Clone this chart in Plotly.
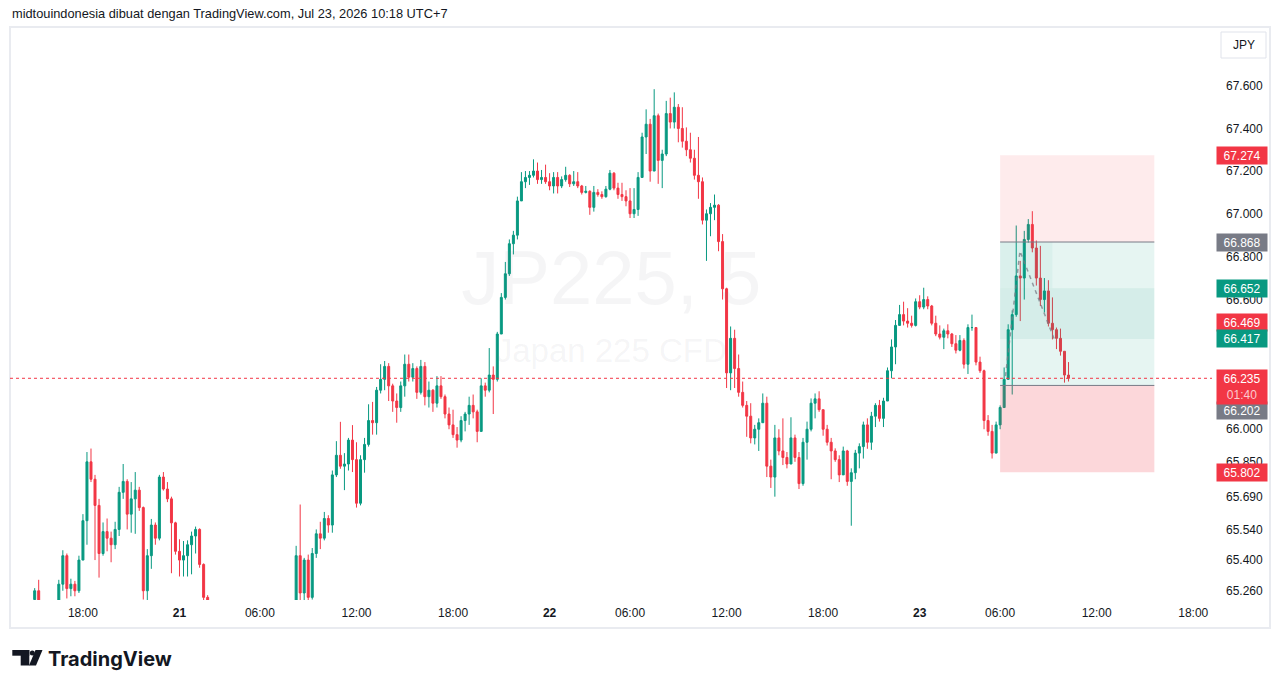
import numpy as np
import pandas as pd
import plotly.graph_objects as go

# ---------------- data (JP225 CFD, 15-minute candles) ----------------
session_segments = [
    ("2026-07-20 15:00", "2026-07-20 15:15"),
    ("2026-07-20 16:30", "2026-07-21 01:45"),
    ("2026-07-21 08:15", "2026-07-23 10:15"),
]
closed_hour = 5  # market break 05:00-06:00 (UTC+7)

opens = [
    65220, 65260,
    65180, 65290,
    65420, 65270, 65290, 65260,
    65400, 65580, 65850, 65770,
    65650, 65430, 65530, 65500,
    65470, 65540, 65710, 65760,
    65610, 65680, 65720, 65640,
    65260, 65420, 65560, 65500,
    65780, 65725, 65680, 65570,
    65440, 65400, 65420, 65470,
    65510, 65540, 65380, 65230,
    # Jul 21
    65200, 65420, 65250,
    65400, 65230, 65430, 65520,
    65500, 65590, 65560, 65790,
    65880, 65830, 65840, 65950,
    65860, 65660, 65860, 65930,
    66040, 66030, 66180, 66230,
    66290, 66200, 66130, 66100,
    66200, 66300, 66240, 66280,
    66170, 66290, 66150, 66180,
    66120, 66200, 66150, 66070,
    66020, 65975, 65950, 66040,
    66070, 66110, 66080, 65990,
    66200, 66180, 66250, 66230,
    66440, 66610, 66720, 66860,
    66900, 67060, 67150, 67170,
    67180, 67200, 67160, 67170,
    # Jul 22
    67150, 67130, 67170, 67130,
    67160, 67180, 67140, 67150,
    67130, 67100, 67105, 67030,
    67100, 67090, 67080, 67115,
    67190, 67120, 67090, 67080,
    67060, 67000, 67020, 67170,
    67360, 67420, 67200, 67460,
    67250, 67280, 67470, 67430,
    67500, 67400, 67340, 67300,
    67260, 67180, 67150, 66970,
    67000, 67030, 67040, 66870,
    66650, 66260, 66420, 66280,
    66170, 66110, 66060, 65960,
    66000, 66030, 66120, 65830,
    65780, 65960, 65900, 65870,
    65840, 65960, 65870, 65750,
    65940, 66000, 66120, 66140,
    66090, 66000, 65940, 65900,
    65860, 65790, 65900, 65760,
    65800, 65890, 65920, 66020,
    65940, 66060, 66110, 66050,
    66130, 66270, 66380, 66480,
    66530, 66500, 66490, 66480,
    # Jul 23
    66590, 66565, 66600, 66570,
    66490, 66440, 66425, 66455,
    66440, 66395, 66365, 66410,
    66300, 66470, 66470, 66310,
    66270, 66040, 65990, 65890,
    66020, 66100, 66230, 66460,
    66530, 66710, 66700, 66880,
    66950, 66840, 66700, 66600,
    66640, 66490, 66460, 66420,
    66360, 66250,
]

highs = [
    65272, 65310,
    65310, 65445,
    65430, 65315, 65305, 65420,
    65610, 65895, 65911, 65790,
    65680, 65572, 65590, 65530,
    65575, 65735, 65840, 65770,
    65757, 65803, 65735, 65645,
    65450, 65588, 65572, 65790,
    65803, 65757, 65690, 65575,
    65495, 65487, 65490, 65530,
    65553, 65545, 65385, 65240,
    # Jul 21
    65465, 65654, 65410,
    65425, 65455, 65540, 65575,
    65620, 65605, 65810, 65945,
    66034, 65890, 65960, 66019,
    65940, 65880, 65960, 66115,
    66126, 66195, 66300, 66315,
    66305, 66210, 66165, 66220,
    66345, 66345, 66305, 66290,
    66320, 66310, 66220, 66185,
    66245, 66245, 66160, 66100,
    66090, 66010, 66060, 66080,
    66150, 66160, 66090, 66235,
    66215, 66375, 66290, 66450,
    66630, 66775, 66880, 66920,
    67080, 67195, 67200, 67200,
    67255, 67240, 67205, 67230,
    # Jul 22
    67190, 67195, 67195, 67175,
    67220, 67185, 67200, 67195,
    67135, 67130, 67110, 67130,
    67115, 67105, 67130, 67205,
    67195, 67145, 67145, 67110,
    67120, 67120, 67195, 67380,
    67490, 67445, 67585, 67470,
    67300, 67530, 67545, 67570,
    67515, 67500, 67405, 67380,
    67300, 67360, 67170, 67020,
    67050, 67090, 67045, 66905,
    66655, 66475, 66460, 66345,
    66220, 66130, 66120, 66020,
    66050, 66165, 66150, 65860,
    66020, 66000, 66050, 65895,
    66055, 65975, 65895, 65960,
    66035, 66142, 66165, 66175,
    66090, 66020, 65960, 65912,
    65880, 65920, 65905, 65820,
    65905, 65935, 66035, 66050,
    66080, 66120, 66135, 66145,
    66285, 66415, 66505, 66575,
    66590, 66560, 66525, 66605,
    # Jul 23
    66620, 66655, 66615, 66575,
    66525, 66480, 66465, 66485,
    66445, 66435, 66435, 66420,
    66485, 66530, 66470, 66335,
    66275, 66065, 66020, 66035,
    66110, 66285, 66485, 66550,
    66945, 66780, 66920, 66975,
    67012, 66875, 66850, 66700,
    66690, 66610, 66470, 66465,
    66360, 66310,
]

lows = [
    65180, 65150,
    65150, 65260,
    65225, 65235, 65235, 65250,
    65400, 65470, 65757, 65400,
    65320, 65420, 65440, 65390,
    65450, 65510, 65680, 65540,
    65525, 65520, 65625, 65220,
    65210, 65360, 65470, 65490,
    65718, 65665, 65340, 65425,
    65325, 65325, 65325, 65335,
    65430, 65365, 65180, 65120,
    # Jul 21
    65150, 65150, 65180,
    65200, 65220, 65410, 65450,
    65490, 65525, 65525, 65780,
    65818, 65720, 65810, 65803,
    65640, 65650, 65800, 65920,
    65975, 65975, 66165, 66180,
    66130, 66080, 66030, 66080,
    66150, 66220, 66220, 66140,
    66160, 66110, 66100, 66080,
    66100, 66140, 66050, 66000,
    65960, 65915, 65940, 65990,
    66020, 66050, 65940, 65990,
    66150, 66170, 66070, 66220,
    66440, 66600, 66710, 66810,
    66880, 67060, 67120, 67135,
    67170, 67140, 67140, 67140,
    # Jul 22
    67110, 67095, 67095, 67120,
    67150, 67125, 67130, 67120,
    67090, 67095, 66995, 67010,
    67080, 67070, 67075, 67110,
    67110, 67070, 67060, 67035,
    66980, 66980, 66990, 67170,
    67280, 67150, 67200, 67140,
    67120, 67270, 67400, 67400,
    67335, 67310, 67270, 67240,
    67160, 67070, 66950, 66780,
    66895, 66970, 66825, 66600,
    66190, 66180, 66190, 66150,
    66100, 65965, 65935, 65930,
    65900, 66030, 65780, 65730,
    65690, 65880, 65835, 65820,
    65840, 65850, 65725, 65740,
    65860, 65990, 66050, 66080,
    65970, 65925, 65770, 65850,
    65757, 65790, 65740, 65557,
    65770, 65820, 65865, 65910,
    65905, 66010, 66035, 66010,
    66130, 66235, 66300, 66480,
    66480, 66470, 66470, 66475,
    # Jul 23
    66555, 66555, 66555, 66480,
    66430, 66415, 66370, 66420,
    66380, 66350, 66360, 66280,
    66255, 66455, 66295, 66260,
    66000, 65970, 65865, 65890,
    66000, 66100, 66230, 66160,
    66520, 66500, 66600, 66865,
    66820, 66665, 66570, 66540,
    66475, 66415, 66370, 66340,
    66215, 66220,
]

closes = [
    65260, 65180,
    65290, 65420,
    65270, 65290, 65260, 65400,
    65580, 65850, 65770, 65650,
    65430, 65530, 65500, 65470,
    65540, 65710, 65760, 65610,
    65680, 65720, 65640, 65260,
    65420, 65560, 65500, 65780,
    65725, 65680, 65570, 65440,
    65400, 65420, 65470, 65510,
    65540, 65380, 65230, 65200,
    # Jul 21
    65420, 65250, 65400,
    65230, 65430, 65520, 65500,
    65590, 65560, 65790, 65880,
    65830, 65840, 65950, 65860,
    65660, 65860, 65930, 66040,
    66030, 66180, 66230, 66290,
    66200, 66130, 66100, 66200,
    66300, 66240, 66280, 66170,
    66290, 66150, 66180, 66120,
    66200, 66150, 66070, 66020,
    65975, 65950, 66040, 66070,
    66110, 66080, 65990, 66200,
    66180, 66250, 66230, 66440,
    66610, 66720, 66860, 66900,
    67060, 67150, 67170, 67180,
    67200, 67160, 67170, 67150,
    # Jul 22
    67130, 67170, 67130, 67160,
    67180, 67140, 67150, 67130,
    67100, 67105, 67030, 67100,
    67090, 67080, 67115, 67190,
    67120, 67090, 67080, 67060,
    67000, 67020, 67170, 67360,
    67420, 67200, 67460, 67250,
    67280, 67470, 67430, 67500,
    67400, 67340, 67300, 67260,
    67180, 67150, 66970, 67000,
    67030, 67040, 66870, 66650,
    66260, 66420, 66280, 66170,
    66110, 66060, 65960, 66000,
    66030, 66120, 65830, 65780,
    65960, 65900, 65870, 65840,
    65960, 65870, 65750, 65940,
    66000, 66120, 66140, 66090,
    66000, 65940, 65900, 65860,
    65790, 65900, 65760, 65800,
    65890, 65920, 66020, 65940,
    66060, 66110, 66050, 66130,
    66270, 66380, 66480, 66530,
    66500, 66490, 66480, 66590,
    # Jul 23
    66565, 66600, 66570, 66490,
    66440, 66425, 66455, 66440,
    66395, 66365, 66410, 66300,
    66470, 66470, 66310, 66270,
    66040, 65990, 65890, 66020,
    66100, 66230, 66460, 66530,
    66710, 66700, 66880, 66950,
    66840, 66700, 66600, 66640,
    66490, 66460, 66420, 66360,
    66250, 66235,
]

# price-axis ticks and time-axis ticks
price_ticks = [67600, 67400, 67200, 67000, 66800, 66600, 66400, 66200,
               66000, 65850, 65690, 65540, 65400, 65260]
time_ticks = ["2026-07-20 18:00", "2026-07-21 00:00", "2026-07-21 06:00", "2026-07-21 12:00",
              "2026-07-21 18:00", "2026-07-22 00:00", "2026-07-22 06:00", "2026-07-22 12:00",
              "2026-07-22 18:00", "2026-07-23 00:00", "2026-07-23 06:00", "2026-07-23 12:00",
              "2026-07-23 18:00"]
time_tick_text = ["18:00", "<b>21</b>", "06:00", "12:00", "18:00", "<b>22</b>", "06:00",
                  "12:00", "18:00", "<b>23</b>", "06:00", "12:00", "18:00"]

# position tool levels
tool_start, tool_end, tool_mid_end = "2026-07-23 06:00", "2026-07-23 15:35", "2026-07-23 09:15"
stop_top, entry_top, entry_bot, stop_bot = 67274, 66868, 66202, 65802
band_hi, band_lo = 66652, 66417
tool_path_times = ["2026-07-23 06:20", "2026-07-23 07:14", "2026-07-23 09:21"]
tool_path_prices = [66245, 66826, 66419]

last_price = 66235
countdown = "01:40"
label_values = [67274, 66868, 66652, 66469, 66417, 66202, 65802]
label_kinds = ["red", "gray", "green", "red", "green", "gray", "red"]
label_shift = [0, 0, 0, 5, 0, -25, 0]

# ---------------- build ----------------
times = []
for a, b in session_segments:
    r = pd.date_range(a, b, freq="15min")
    times.extend(list(r[r.hour != closed_hour]))
assert len(times) == len(opens) == len(highs) == len(lows) == len(closes), (
    len(times), len(opens), len(highs), len(lows), len(closes))

UP, DOWN, TXT, GRAY = "#089981", "#f23645", "#131722", "#787b86"
KIND = {"red": DOWN, "gray": GRAY, "green": UP}
FONT = "Liberation Sans"

W, H = 1281, 688
ML, MR, MT, MB = 10, 69, 27, 88
PW, PH = W - ML - MR, H - MT - MB


def px(X):
    return (X - ML) / PW


def py(Y):
    return (H - MB - Y) / PH


def fmt(v):
    return f"{v:,}".replace(",", ".")


x_range = ["2026-07-20 13:28", "2026-07-23 19:10"]
y_lo, y_hi = 65218, 67879

fig = go.Figure()

# watermark (behind everything)
fig.add_trace(go.Scatter(
    x=["2026-07-22 03:50", "2026-07-22 03:50"], y=[66669, 66350], mode="text",
    text=["JP225, 5", "Japan 225 CFD"],
    textfont=dict(size=[76, 33], color="rgba(120,123,134,0.075)", family=FONT),
    hoverinfo="skip", showlegend=False))


def rect(x0, x1, y0, y1, color):
    fig.add_trace(go.Scatter(x=[x0, x1, x1, x0, x0], y=[y0, y0, y1, y1, y0], mode="lines",
                             fill="toself", fillcolor=color, line=dict(width=0),
                             hoverinfo="skip", showlegend=False))


rect(tool_start, tool_end, entry_top, stop_top, "rgba(242,54,69,0.1)")
rect(tool_start, tool_end, entry_bot, entry_top, "rgba(8,153,129,0.1)")
rect(tool_start, tool_end, stop_bot, entry_bot, "rgba(242,54,69,0.2)")
rect(tool_start, tool_end, band_lo, band_hi, "rgba(8,153,129,0.08)")
rect(tool_start, tool_mid_end, band_hi, entry_top, "rgba(8,153,129,0.05)")

for lvl in (entry_top, entry_bot):
    fig.add_trace(go.Scatter(x=[tool_start, tool_end], y=[lvl, lvl], mode="lines",
                             line=dict(color=GRAY, width=1), hoverinfo="skip", showlegend=False))

# last-price dotted line
fig.add_trace(go.Scatter(x=x_range, y=[last_price, last_price], mode="lines",
                         line=dict(color=DOWN, width=1, dash="dot"),
                         hoverinfo="skip", showlegend=False))

fig.add_trace(go.Candlestick(
    x=times, open=opens, high=highs, low=lows, close=closes,
    increasing=dict(line=dict(color=UP, width=1), fillcolor=UP),
    decreasing=dict(line=dict(color=DOWN, width=1), fillcolor=DOWN),
    whiskerwidth=0, hoverinfo="skip", showlegend=False))

fig.add_trace(go.Scatter(x=tool_path_times, y=tool_path_prices, mode="lines",
                         line=dict(color="rgba(120,123,134,0.75)", width=1.5, dash="4px,4px"),
                         hoverinfo="skip", showlegend=False))

# right-axis price labels
for v, k, s in zip(label_values, label_kinds, label_shift):
    fig.add_annotation(xref="paper", yref="y", x=1, y=np.log10(v), xanchor="left",
                       yanchor="middle", xshift=4, yshift=s, text=fmt(v), showarrow=False,
                       bgcolor=KIND[k], font=dict(color="white", size=12, family=FONT),
                       width=46, height=13, borderpad=2, align="center")
fig.add_annotation(xref="paper", yref="y", x=1, y=np.log10(last_price), xanchor="left",
                   yanchor="top", xshift=4, yshift=9,
                   text=f"{fmt(last_price)}<br><span style='color:#fcc9ce'>{countdown}</span>",
                   showarrow=False, bgcolor=DOWN, font=dict(color="white", size=12, family=FONT),
                   width=46, height=30, borderpad=2, align="center")

# header
fig.add_annotation(xref="paper", yref="paper", x=px(10), y=py(13), xanchor="left",
                   yanchor="middle", showarrow=False,
                   text="midtouindonesia dibuat dengan TradingView.com, Jul 23, 2026 10:18 UTC+7",
                   font=dict(size=12.8, color=TXT, family=FONT))
# JPY button
fig.add_shape(type="rect", xref="paper", yref="paper", x0=px(1221), x1=px(1266), y0=py(58),
              y1=py(32), line=dict(color="#e0e3eb", width=1), fillcolor="white")
fig.add_annotation(xref="paper", yref="paper", x=px(1243.5), y=py(45), xanchor="center",
                   yanchor="middle", showarrow=False,
                   text="JPY", font=dict(size=12, color=TXT, family=FONT))
# frame
fig.add_shape(type="rect", xref="paper", yref="paper", x0=px(10), x1=px(1270), y0=py(628),
              y1=py(27), line=dict(color="#e9ebf0", width=2), layer="below")

# TradingView logo
LOGO = "#131722"
fig.add_shape(type="rect", xref="paper", yref="paper", x0=px(12.3), x1=px(29.3), y0=py(655.7),
              y1=py(650), line=dict(width=0), fillcolor=LOGO)
fig.add_shape(type="rect", xref="paper", yref="paper", x0=px(20.7), x1=px(29.3), y0=py(665.5),
              y1=py(650), line=dict(width=0), fillcolor=LOGO)
fig.add_shape(type="circle", xref="paper", yref="paper", x0=px(29.8), x1=px(34.8), y0=py(655.5),
              y1=py(650.5), line=dict(width=0), fillcolor=LOGO)
fig.add_shape(type="path", xref="paper", yref="paper",
              path=f"M {px(35.5)} {py(650)} L {px(42.5)} {py(650)} L {px(36)} {py(665.5)} "
                   f"L {px(29)} {py(665.5)} Z", line=dict(width=0), fillcolor=LOGO)
fig.add_annotation(xref="paper", yref="paper", x=px(46), y=py(659), xanchor="left",
                   yanchor="middle", showarrow=False, text="<b>TradingView</b>",
                   font=dict(size=20, color=LOGO, family="Inter"))

fig.update_layout(
    width=W, height=H, margin=dict(l=ML, r=MR, t=MT, b=MB),
    paper_bgcolor="white", plot_bgcolor="white", showlegend=False, hovermode=False,
    font=dict(family=FONT, size=12, color=TXT),
    xaxis=dict(type="date", range=x_range, rangeslider=dict(visible=False),
               rangebreaks=[dict(bounds=[closed_hour, closed_hour + 1], pattern="hour")],
               tickmode="array", tickvals=time_ticks, ticktext=time_tick_text,
               showgrid=False, zeroline=False, showline=False, ticks="",
               tickfont=dict(size=12, color=TXT, family=FONT), ticklabelstandoff=4),
    yaxis=dict(type="log", range=[np.log10(y_lo), np.log10(y_hi)], side="right",
               tickmode="array", tickvals=price_ticks, ticktext=[fmt(v) for v in price_ticks],
               showgrid=False, zeroline=False, showline=False, ticks="",
               tickfont=dict(size=12, color=TXT, family=FONT), ticklabelstandoff=13),
)

fig.write_html("out.html")
